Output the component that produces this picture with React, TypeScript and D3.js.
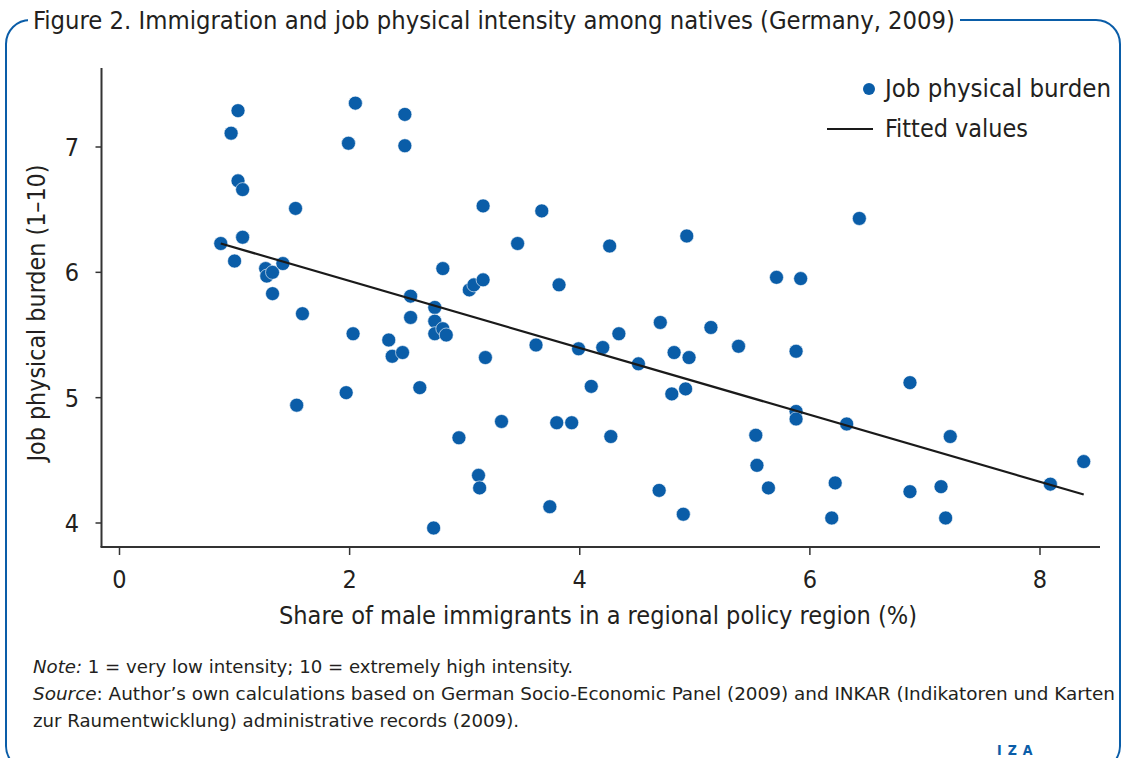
import * as d3 from 'd3'

// share of male immigrants in region (%)
const shareImmigrants = [
  0.88, 0.97, 1.03, 1.03, 1.07, 1.00, 1.07, 1.27, 1.28, 1.33,
  1.42, 1.33, 1.53, 1.59, 1.54, 1.97, 1.99, 2.05, 2.03, 2.34,
  2.37, 2.46, 2.48, 2.48, 2.53, 2.53, 2.61, 2.74, 2.74, 2.74,
  2.81, 2.84, 2.81, 2.73, 2.95, 3.04, 3.08, 3.16, 3.16, 3.18,
  3.12, 3.13, 3.32, 3.46, 3.62, 3.67, 3.74, 3.80, 3.82, 3.93,
  3.99, 4.10, 4.20, 4.26, 4.27, 4.34, 4.51, 4.70, 4.69, 4.80,
  4.82, 4.90, 4.92, 4.93, 4.95, 5.14, 5.38, 5.53, 5.54, 5.64,
  5.71, 5.92, 5.88, 5.88, 5.88, 6.19, 6.22, 6.32, 6.43, 6.87,
  6.87, 7.14, 7.18, 7.22, 8.09, 8.38,
]

// job physical burden (1-10)
const physicalBurden = [
  6.23, 7.11, 7.29, 6.73, 6.66, 6.09, 6.28, 6.03, 5.97, 6.00,
  6.07, 5.83, 6.51, 5.67, 4.94, 5.04, 7.03, 7.35, 5.51, 5.46,
  5.33, 5.36, 7.26, 7.01, 5.81, 5.64, 5.08, 5.72, 5.61, 5.51,
  5.55, 5.50, 6.03, 3.96, 4.68, 5.86, 5.90, 5.94, 6.53, 5.32,
  4.38, 4.28, 4.81, 6.23, 5.42, 6.49, 4.13, 4.80, 5.90, 4.80,
  5.39, 5.09, 5.40, 6.21, 4.69, 5.51, 5.27, 5.60, 4.26, 5.03,
  5.36, 4.07, 5.07, 6.29, 5.32, 5.56, 5.41, 4.70, 4.46, 4.28,
  5.96, 5.95, 5.37, 4.89, 4.83, 4.04, 4.32, 4.79, 6.43, 5.12,
  4.25, 4.29, 4.04, 4.69, 4.31, 4.49,
]

// fitted values (linear fit)
const fitIntercept = 6.465
const fitSlope = -0.267

const xTicks = [0, 2, 4, 6, 8]
const yTicks = [4, 5, 6, 7]

const BLUE = '#0a5da8'
const TEXT = '#231f20'
const FONT = '"Liberation Sans Narrow", "DejaVu Sans Condensed", "Roboto", sans-serif'

export default function App() {
  const width = 1124
  const height = 758

  const x = d3.scaleLinear().domain([0, 8]).range([119.5, 1040])
  const y = d3.scaleLinear().domain([4, 7]).range([523, 147])

  const plotLeft = 101.5
  const plotRight = 1100
  const plotTop = 68
  const plotBottom = 547

  const [xMin, xMax] = d3.extent(shareImmigrants) as [number, number]
  const fitLine = d3.line<number>()
    .x((d) => x(d))
    .y((d) => y(fitIntercept + fitSlope * d))([xMin, xMax]) ?? ''

  return (
    <div style={{ position: 'fixed', left: 0, top: 0 }}>
      <svg width={width} height={height} style={{ display: 'block', background: '#fff' }} fontFamily={FONT}>
        {/* frame */}
        <rect x={6} y={20} width={1114} height={750} rx={24} fill="none" stroke={BLUE} strokeWidth={2} />
        <rect x={28} y={4} width={932} height={32} fill="#fff" />
        <text x={33} y={29} fontSize={24} fill={TEXT} textLength={922} lengthAdjust="spacingAndGlyphs">
          Figure 2. Immigration and job physical intensity among natives (Germany, 2009)
        </text>

        {/* axes */}
        <line x1={plotLeft} x2={plotLeft} y1={plotTop} y2={plotBottom} stroke="#333" strokeWidth={2} />
        <line x1={plotLeft - 1} x2={plotRight} y1={plotBottom} y2={plotBottom} stroke="#333" strokeWidth={2} />
        {yTicks.map((t) => (
          <g key={'y' + t}>
            <line x1={plotLeft - 6} x2={plotLeft} y1={y(t)} y2={y(t)} stroke="#333" strokeWidth={1.5} />
            <text x={79} y={y(t) + 9} fontSize={25} textAnchor="end" fill={TEXT}>{t}</text>
          </g>
        ))}
        {xTicks.map((t) => (
          <g key={'x' + t}>
            <line x1={x(t)} x2={x(t)} y1={plotBottom} y2={plotBottom + 8} stroke="#333" strokeWidth={1.5} />
            <text x={x(t)} y={588} fontSize={25} textAnchor="middle" fill={TEXT}>{t}</text>
          </g>
        ))}
        <text x={598} y={624} fontSize={24} textAnchor="middle" fill={TEXT} textLength={638} lengthAdjust="spacingAndGlyphs">
          Share of male immigrants in a regional policy region (%)
        </text>
        <text transform={`translate(45, 313) rotate(-90)`} fontSize={24} textAnchor="middle" fill={TEXT} textLength={297} lengthAdjust="spacingAndGlyphs">
          Job physical burden (1–10)
        </text>

        {/* points */}
        {shareImmigrants.map((d, i) => (
          <circle key={i} cx={x(d)} cy={y(physicalBurden[i])} r={7} fill={BLUE} stroke="#fff" strokeWidth={0.6} />
        ))}

        {/* fitted line */}
        <path d={fitLine} fill="none" stroke="#1a1a1a" strokeWidth={2.2} />

        {/* legend */}
        <circle cx={869} cy={89} r={6} fill={BLUE} />
        <text x={885} y={97} fontSize={24} fill={TEXT} textLength={226} lengthAdjust="spacingAndGlyphs">Job physical burden</text>
        <line x1={827} x2={873} y1={129} y2={129} stroke="#1a1a1a" strokeWidth={2.2} />
        <text x={885} y={137} fontSize={24} fill={TEXT} textLength={143} lengthAdjust="spacingAndGlyphs">Fitted values</text>

        {/* notes */}
        <text x={33} y={673} fontSize={18} fill={TEXT} textLength={540} lengthAdjust="spacingAndGlyphs">
          <tspan fontStyle="italic">Note:</tspan> 1 = very low intensity; 10 = extremely high intensity.
        </text>
        <text x={33} y={700} fontSize={18} fill={TEXT} textLength={1082} lengthAdjust="spacingAndGlyphs">
          <tspan fontStyle="italic">Source</tspan>: Author’s own calculations based on German Socio-Economic Panel (2009) and INKAR (Indikatoren und Karten
        </text>
        <text x={33} y={727} fontSize={18} fill={TEXT} textLength={486} lengthAdjust="spacingAndGlyphs">
          zur Raumentwicklung) administrative records (2009).
        </text>
        <text x={997} y={755} fontSize={14} fill={BLUE} fontWeight="bold" letterSpacing={6}>IZA</text>
      </svg>
    </div>
  )
}
